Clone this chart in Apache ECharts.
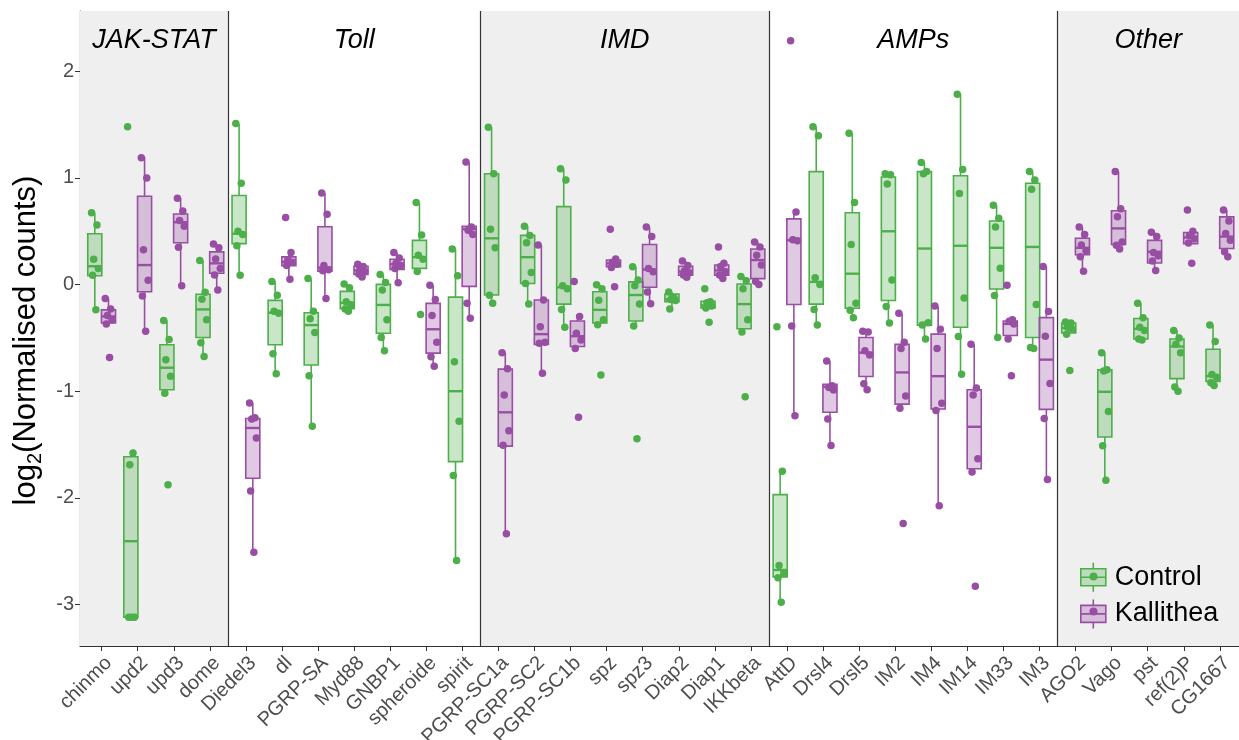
<!DOCTYPE html>
<html><head><meta charset="utf-8">
<script src="https://cdn.jsdelivr.net/npm/echarts@6/dist/echarts.min.js"></script>
<style>html,body{margin:0;padding:0;background:#fff}#c{width:1239px;height:740px}</style>
</head><body><div id="c"></div>
<script>
// ---------- data ----------
const genes = ['chinmo','upd2','upd3','dome','Diedel3','dl','PGRP-SA','Myd88','GNBP1','spheroide','spirit',
  'PGRP-SC1a','PGRP-SC2','PGRP-SC1b','spz','spz3','Diap2','Diap1','IKKbeta',
  'AttD','Drsl4','Drsl5','IM2','IM4','IM14','IM33','IM3',
  'AGO2','Vago','pst','ref(2)P','CG1667'];
const groupNames = ['JAK-STAT','Toll','IMD','AMPs','Other'];
const groupStart = [0, 4, 11, 19, 27];
const groupEnd = [3, 10, 18, 26, 31];
const yTicks = [-3, -2, -1, 0, 1, 2];
const seriesNames = ['Control', 'Kallithea'];

// box stats: [lower whisker, Q1, median, Q3, upper whisker]
const controlBox = [
  [-0.237, 0.083, 0.172, 0.477, 0.673],
  [-3.12, -3.12, -2.407, -1.615, -1.58],
  [-1.02, -0.986, -0.78, -0.565, -0.338],
  [-0.674, -0.496, -0.233, -0.091, 0.226],
  [0.087, 0.384, 0.477, 0.836, 1.507],
  [-0.836, -0.565, -0.264, -0.148, 0.029],
  [-1.33, -0.755, -0.38, -0.264, 0.056],
  [-0.253, -0.226, -0.172, -0.064, 0.006],
  [-0.62, -0.457, -0.191, 0.002, 0.094],
  [0.122, 0.152, 0.257, 0.415, 0.766],
  [-2.588, -1.661, -1.0, -0.118, 0.334],
  [-0.176, -0.098, 0.434, 1.04, 1.476],
  [-0.183, 0.01, 0.257, 0.461, 0.546],
  [-0.4, -0.183, -0.025, 0.731, 1.086],
  [-0.376, -0.361, -0.237, -0.068, -0.002],
  [-0.388, -0.342, -0.098, 0.025, 0.168],
  [-0.23, -0.16, -0.14, -0.09, -0.07],
  [-0.233, -0.22, -0.195, -0.156, -0.156],
  [-0.446, -0.415, -0.183, 0.006, 0.075],
  [-2.98, -2.742, -2.677, -1.97, -1.75],
  [-0.38, -0.183, 0.025, 1.059, 1.48],
  [-0.31, -0.222, 0.102, 0.673, 1.418],
  [-0.361, -0.149, 0.5, 1.009, 1.04],
  [-0.511, -0.38, 0.338, 1.059, 1.144],
  [-0.84, -0.4, 0.364, 1.021, 1.785],
  [-0.496, -0.041, 0.345, 0.596, 0.743],
  [-0.6, -0.496, 0.353, 0.951, 1.059],
  [-0.465, -0.453, -0.407, -0.361, -0.35],
  [-1.835, -1.43, -1.006, -0.8, -0.639],
  [-0.52, -0.511, -0.415, -0.318, -0.176],
  [-0.998, -0.882, -0.581, -0.511, -0.426],
  [-0.947, -0.908, -0.859, -0.607, -0.38]
];
const kallitheaBox = [
  [-0.37, -0.361, -0.299, -0.237, -0.13],
  [-0.438, -0.068, 0.183, 0.828, 1.194],
  [-0.01, 0.392, 0.585, 0.662, 0.812],
  [-0.048, 0.106, 0.199, 0.307, 0.384],
  [-2.51, -1.816, -1.345, -1.256, -1.11],
  [0.052, 0.176, 0.214, 0.26, 0.295],
  [-0.133, 0.125, 0.16, 0.542, 0.859],
  [0.068, 0.094, 0.133, 0.172, 0.2],
  [0.017, 0.141, 0.191, 0.237, 0.3],
  [-0.766, -0.643, -0.419, -0.176, -0.006],
  [-0.315, -0.017, 0.52, 0.546, 1.148],
  [-2.337, -1.515, -1.198, -0.793, -0.639],
  [-0.832, -0.562, -0.465, -0.145, 0.372],
  [-0.6, -0.581, -0.484, -0.342, -0.303],
  [0.16, 0.168, 0.199, 0.23, 0.24],
  [-0.18, -0.025, 0.141, 0.376, 0.539],
  [0.068, 0.087, 0.122, 0.172, 0.222],
  [0.056, 0.087, 0.133, 0.183, 0.2],
  [0.0, 0.056, 0.23, 0.334, 0.4],
  [-1.229, -0.187, 0.415, 0.616, 0.681],
  [-1.511, -1.198, -0.96, -0.936, -0.716],
  [-0.986, -0.862, -0.639, -0.496, -0.438],
  [-1.16, -1.121, -0.824, -0.561, -0.272],
  [-2.075, -1.167, -0.859, -0.465, -0.206],
  [-1.758, -1.727, -1.334, -0.986, -0.561],
  [-0.511, -0.477, -0.369, -0.342, -0.33],
  [-1.828, -1.171, -0.704, -0.31, 0.172],
  [0.125, 0.28, 0.345, 0.434, 0.539],
  [0.334, 0.376, 0.527, 0.693, 1.059],
  [0.133, 0.203, 0.307, 0.415, 0.492],
  [0.384, 0.384, 0.442, 0.488, 0.5],
  [0.26, 0.338, 0.45, 0.635, 0.7]
];
// individual replicate values
const controlPoints = [
  [0.673, 0.558, 0.237, 0.15, 0.087, -0.237],
  [1.48, -1.58, -1.69, -3.12, -3.12, -3.12],
  [-0.338, -0.515, -0.704, -0.859, -1.02, -1.878],
  [0.226, -0.071, -0.137, -0.33, -0.546, -0.674],
  [1.51, 0.95, 0.5, 0.47, 0.365, 0.087],
  [0.03, -0.1, -0.25, -0.27, -0.65, -0.836],
  [0.056, -0.25, -0.32, -0.45, -0.855, -1.33],
  [0.006, -0.03, -0.16, -0.19, -0.23, -0.25],
  [0.094, 0.02, -0.05, -0.33, -0.496, -0.62],
  [0.77, 0.465, 0.276, 0.237, 0.122, -0.28],
  [0.334, 0.083, -0.724, -1.283, -1.79, -2.588],
  [1.476, 1.04, 0.52, 0.345, -0.1, -0.176],
  [0.546, 0.46, 0.392, 0.114, 0.01, -0.183],
  [1.086, 0.982, -0.01, -0.04, -0.233, -0.4],
  [-0.002, -0.04, -0.148, -0.33, -0.376, -0.847],
  [0.168, 0.044, -0.01, -0.183, -0.388, -1.445],
  [-0.07, -0.13, -0.14, -0.15, -0.23, -0.12],
  [-0.04, -0.16, -0.17, -0.2, -0.22, -0.353],
  [0.075, 0.036, -0.04, -0.33, -0.446, -1.052],
  [-0.396, -1.75, -2.634, -2.71, -2.75, -2.98],
  [1.48, 1.395, 0.064, 0.0, -0.233, -0.38],
  [1.42, 0.77, 0.376, -0.176, -0.24, -0.31],
  [1.04, 1.03, 0.944, 0.044, -0.206, -0.36],
  [1.144, 1.06, 1.04, -0.357, -0.38, -0.51],
  [1.785, 1.079, 0.855, -0.125, -0.488, -0.84],
  [0.743, 0.623, 0.539, 0.152, -0.102, -0.496],
  [1.06, 0.98, 0.893, -0.187, -0.59, -0.6],
  [-0.35, -0.36, -0.4, -0.42, -0.465, -0.805],
  [-0.64, -0.8, -0.81, -1.19, -1.511, -1.835],
  [-0.176, -0.31, -0.4, -0.43, -0.511, -0.52],
  [-0.43, -0.5, -0.56, -0.64, -0.96, -1.0],
  [-0.38, -0.534, -0.843, -0.87, -0.92, -0.947]
];
const kallitheaPoints = [
  [-0.13, -0.23, -0.29, -0.33, -0.37, -0.685],
  [1.19, 1.0, 0.326, 0.04, -0.106, -0.438],
  [0.81, 0.69, 0.6, 0.546, 0.349, -0.01],
  [0.38, 0.345, 0.24, 0.15, 0.09, -0.05],
  [-1.11, -1.25, -1.26, -1.44, -1.936, -2.51],
  [0.63, 0.3, 0.23, 0.21, 0.18, 0.05],
  [0.86, 0.66, 0.18, 0.14, 0.13, -0.13],
  [0.19, 0.17, 0.14, 0.12, 0.1, 0.07],
  [0.3, 0.25, 0.2, 0.18, 0.15, 0.017],
  [-0.006, -0.14, -0.29, -0.54, -0.678, -0.766],
  [1.15, 0.54, 0.51, 0.47, -0.176, -0.315],
  [-0.64, -0.79, -1.036, -1.372, -1.508, -2.337],
  [0.372, -0.145, -0.395, -0.54, -0.55, -0.832],
  [0.029, -0.3, -0.457, -0.52, -0.6, -1.245],
  [0.52, 0.24, 0.21, 0.19, 0.16, -0.02],
  [0.54, 0.45, 0.15, 0.12, -0.07, -0.18],
  [0.222, 0.18, 0.13, 0.11, 0.09, 0.068],
  [0.353, 0.2, 0.17, 0.12, 0.09, 0.056],
  [0.4, 0.353, 0.276, 0.183, 0.029, 0.0],
  [2.287, 0.68, 0.42, 0.41, -0.388, -1.23],
  [-0.716, -0.95, -0.965, -0.99, -1.26, -1.51],
  [-0.438, -0.445, -0.62, -0.66, -0.93, -0.986],
  [-0.27, -0.54, -0.6, -1.045, -1.16, -2.24],
  [-0.2, -0.42, -0.6, -1.113, -1.18, -2.075],
  [-0.56, -0.97, -1.036, -1.634, -1.758, -2.83],
  [-0.006, -0.33, -0.345, -0.369, -0.511, -0.855],
  [0.17, -0.253, -0.484, -0.928, -1.256, -1.828],
  [0.54, 0.47, 0.372, 0.318, 0.26, 0.125],
  [1.06, 0.712, 0.635, 0.4, 0.37, 0.334],
  [0.49, 0.45, 0.3, 0.27, 0.22, 0.133],
  [0.7, 0.5, 0.46, 0.43, 0.39, 0.2],
  [0.7, 0.596, 0.48, 0.415, 0.307, 0.26]
];

// ---------- styling / layout ----------
const FONT = "'Liberation Sans', Arial, Helvetica, sans-serif";
const X_MIN = -0.6, X_MAX = 31.53;
const Y_MIN = -3.39, Y_MAX = 2.566;
const DODGE = 0.19, BOX_W = 0.39;
const JITTER = [-0.09, 0.06, -0.03, 0.1, -0.06, 0.03];
const GREEN = '#4daf4a', GREEN_FILL = 'rgba(77,175,74,0.3)';
const PURPLE = '#984ea3', PURPLE_FILL = 'rgba(152,78,163,0.3)';
const PANEL_GREY = '#efefef';
const BOX_ICON = 'path://M13.5 0V6M13.5 23V29M1 6H26V23H1ZM1 14.5H26';
const DOT_ICON = 'path://M0 0M27 29M17.5 14.5A4 4 0 1 1 9.5 14.5A4 4 0 1 1 17.5 14.5Z';

function boxSeries(name, boxes, stroke, fill, side) {
  return {
    name: name, type: 'custom', z: 3, silent: true,
    data: boxes.map((b, i) => [i].concat(b)),
    encode: { x: 0, y: [1, 2, 3, 4, 5] },
    renderItem: function (params, api) {
      const x = api.value(0) + side * DODGE;
      const lo = api.value(1), q1 = api.value(2), med = api.value(3), q3 = api.value(4), hi = api.value(5);
      const tl = api.coord([x - BOX_W / 2, q3]);
      const br = api.coord([x + BOX_W / 2, q1]);
      const pm = api.coord([x, med]);
      const pHi = api.coord([x, hi]), pLo = api.coord([x, lo]);
      const pQ3 = api.coord([x, q3]), pQ1 = api.coord([x, q1]);
      return {
        type: 'group', children: [
          { type: 'line', shape: { x1: pHi[0], y1: pHi[1], x2: pQ3[0], y2: pQ3[1] }, style: { stroke: stroke, lineWidth: 1.6 } },
          { type: 'line', shape: { x1: pQ1[0], y1: pQ1[1], x2: pLo[0], y2: pLo[1] }, style: { stroke: stroke, lineWidth: 1.6 } },
          { type: 'rect', shape: { x: tl[0], y: tl[1], width: br[0] - tl[0], height: br[1] - tl[1] }, style: { fill: fill, stroke: stroke, lineWidth: 1.6 } },
          { type: 'line', shape: { x1: tl[0], y1: pm[1], x2: br[0], y2: pm[1] }, style: { stroke: stroke, lineWidth: 2.4 } }
        ]
      };
    }
  };
}
function pointSeries(name, pts, color, side) {
  const data = [];
  pts.forEach((arr, i) => arr.forEach((v, j) => data.push([i + side * DODGE + JITTER[j % JITTER.length], v])));
  return { name: name, type: 'scatter', z: 4, silent: true, symbolSize: 7.5, itemStyle: { color: color, opacity: 1 }, data: data };
}

const lastG = groupNames.length - 1;
const backgroundSeries = {
  type: 'line', data: [], z: 0, silent: true,
  markArea: {
    silent: true,
    label: { show: true, position: 'insideTop', distance: 16, fontStyle: 'italic', fontSize: 27, color: '#000', fontFamily: FONT },
    data: groupNames.map((g, k) => [
      { name: g, xAxis: k === 0 ? X_MIN : groupStart[k] - 0.5, itemStyle: { color: k % 2 === 0 ? PANEL_GREY : 'rgba(255,255,255,0)' } },
      { xAxis: k === lastG ? X_MAX : groupEnd[k] + 0.5 }
    ])
  },
  markLine: {
    silent: true, symbol: 'none', label: { show: false },
    lineStyle: { color: '#333', width: 1.2, type: 'solid' },
    data: groupStart.slice(1).map(s => ({ xAxis: s - 0.5 }))
  }
};

const idx = genes.map((g, i) => i);
const legendBase = {
  orient: 'vertical', left: 1080, top: 562, padding: 0, itemWidth: 27, itemHeight: 29, itemGap: 6,
  selectedMode: false
};

const option = {
  animation: false,
  backgroundColor: '#ffffff',
  grid: { left: 80, right: 0, top: 11, bottom: 94, containLabel: false, outerBoundsMode: 'none' },
  xAxis: {
    type: 'value', min: X_MIN, max: X_MAX, splitLine: { show: false },
    axisLine: { show: true, onZero: false, lineStyle: { color: '#333', width: 1.2 } },
    axisTick: { show: true, customValues: idx, length: 5, lineStyle: { color: '#333' } },
    axisLabel: { customValues: idx, formatter: v => genes[Math.round(v)], rotate: 45, fontSize: 20, color: '#4d4d4d', margin: 7, verticalAlign: 'top', align: 'right', fontFamily: FONT }
  },
  yAxis: {
    type: 'value', min: Y_MIN, max: Y_MAX, splitLine: { show: false },
    axisLine: { show: true, onZero: false, lineStyle: { color: '#333', width: 1.2 } },
    axisTick: { show: true, customValues: yTicks, length: 5, lineStyle: { color: '#333' } },
    axisLabel: { customValues: yTicks, fontSize: 20, color: '#4d4d4d', margin: 6, fontFamily: FONT },
    name: '{a|log}{s|2}{a|(Normalised counts)}', nameLocation: 'middle', nameGap: 32, nameRotate: 90,
    nameTextStyle: { padding: [0, 24, 0, 0], rich: {
      a: { fontSize: 31, fontFamily: FONT, color: '#000', lineHeight: 38 },
      s: { fontSize: 20, fontFamily: FONT, color: '#000', lineHeight: 20, verticalAlign: 'bottom' }
    } }
  },
  legend: [
    Object.assign({}, legendBase, {
      textStyle: { fontSize: 27, color: '#000', fontFamily: FONT, lineHeight: 29, padding: [0, 0, 0, 3] },
      data: [
        { name: seriesNames[0], icon: BOX_ICON, itemStyle: { color: GREEN_FILL, borderColor: GREEN, borderWidth: 1.6 } },
        { name: seriesNames[1], icon: BOX_ICON, itemStyle: { color: PURPLE_FILL, borderColor: PURPLE, borderWidth: 1.6 } }
      ]
    }),
    Object.assign({}, legendBase, {
      textStyle: { fontSize: 27, color: 'rgba(0,0,0,0)', fontFamily: FONT, lineHeight: 29, padding: [0, 0, 0, 3] },
      data: [
        { name: seriesNames[0], icon: DOT_ICON, itemStyle: { color: GREEN, borderWidth: 0 } },
        { name: seriesNames[1], icon: DOT_ICON, itemStyle: { color: PURPLE, borderWidth: 0 } }
      ]
    })
  ],
  series: [
    backgroundSeries,
    boxSeries(seriesNames[0], controlBox, GREEN, GREEN_FILL, -1),
    boxSeries(seriesNames[1], kallitheaBox, PURPLE, PURPLE_FILL, 1),
    pointSeries(seriesNames[0], controlPoints, GREEN, -1),
    pointSeries(seriesNames[1], kallitheaPoints, PURPLE, 1)
  ]
};
echarts.init(document.getElementById('c'), null, { renderer: 'canvas' }).setOption(option);
</script>
</body></html>
